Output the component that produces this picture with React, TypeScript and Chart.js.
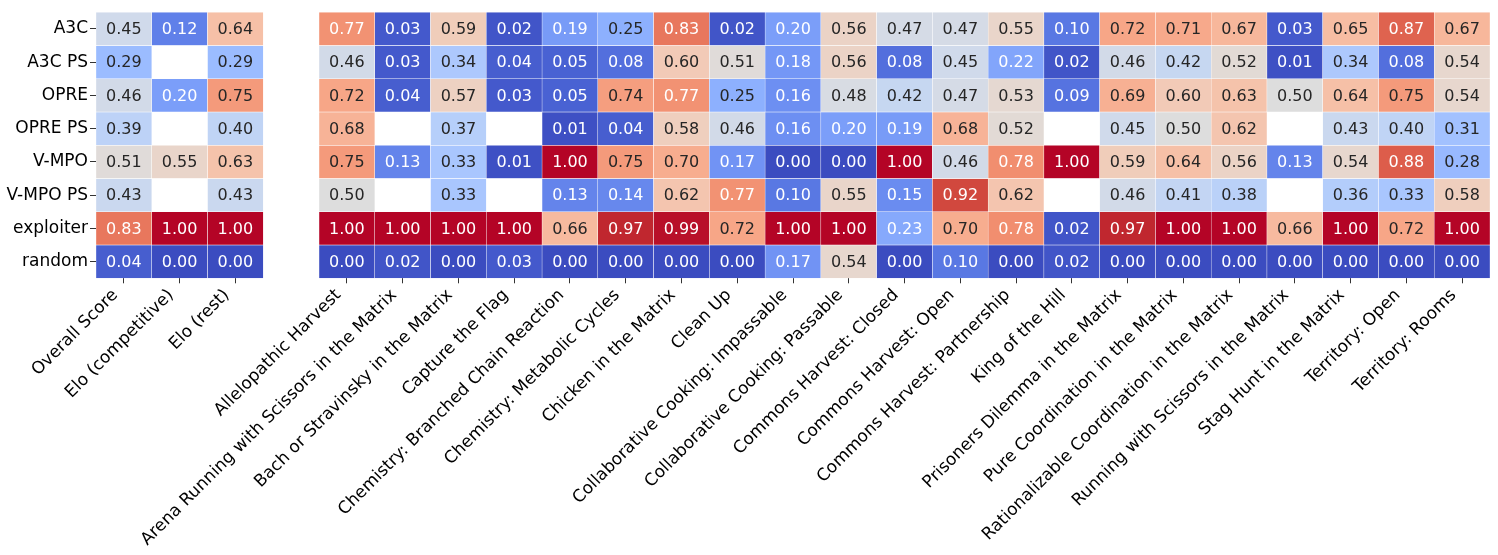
import React, { useEffect, useRef } from 'react';
import { Chart, registerables } from 'chart.js';

Chart.register(...registerables);

const rowLabels = ['A3C', 'A3C PS', 'OPRE', 'OPRE PS', 'V-MPO', 'V-MPO PS', 'exploiter', 'random'];

const summaryLabels = ['Overall Score', 'Elo (competitive)', 'Elo (rest)'];

const substrateLabels = [
  'Allelopathic Harvest',
  'Arena Running with Scissors in the Matrix',
  'Bach or Stravinsky in the Matrix',
  'Capture the Flag',
  'Chemistry: Branched Chain Reaction',
  'Chemistry: Metabolic Cycles',
  'Chicken in the Matrix',
  'Clean Up',
  'Collaborative Cooking: Impassable',
  'Collaborative Cooking: Passable',
  'Commons Harvest: Closed',
  'Commons Harvest: Open',
  'Commons Harvest: Partnership',
  'King of the Hill',
  'Prisoners Dilemma in the Matrix',
  'Pure Coordination in the Matrix',
  'Rationalizable Coordination in the Matrix',
  'Running with Scissors in the Matrix',
  'Stag Hunt in the Matrix',
  'Territory: Open',
  'Territory: Rooms',
];

// Summary values per row: Overall Score, Elo (competitive), Elo (rest)
const summaryA3C = [0.45, 0.12, 0.64];
const summaryA3CPS = [0.29, null, 0.29];
const summaryOPRE = [0.46, 0.20, 0.75];
const summaryOPREPS = [0.39, null, 0.40];
const summaryVMPO = [0.51, 0.55, 0.63];
const summaryVMPOPS = [0.43, null, 0.43];
const summaryExploiter = [0.83, 1.00, 1.00];
const summaryRandom = [0.04, 0.00, 0.00];

// Substrate values per row (same order as substrateLabels)
const substrateA3C = [0.77, 0.03, 0.59, 0.02, 0.19, 0.25, 0.83, 0.02, 0.20, 0.56, 0.47, 0.47, 0.55, 0.10, 0.72, 0.71, 0.67, 0.03, 0.65, 0.87, 0.67];
const substrateA3CPS = [0.46, 0.03, 0.34, 0.04, 0.05, 0.08, 0.60, 0.51, 0.18, 0.56, 0.08, 0.45, 0.22, 0.02, 0.46, 0.42, 0.52, 0.01, 0.34, 0.08, 0.54];
const substrateOPRE = [0.72, 0.04, 0.57, 0.03, 0.05, 0.74, 0.77, 0.25, 0.16, 0.48, 0.42, 0.47, 0.53, 0.09, 0.69, 0.60, 0.63, 0.50, 0.64, 0.75, 0.54];
const substrateOPREPS = [0.68, null, 0.37, null, 0.01, 0.04, 0.58, 0.46, 0.16, 0.20, 0.19, 0.68, 0.52, null, 0.45, 0.50, 0.62, null, 0.43, 0.40, 0.31];
const substrateVMPO = [0.75, 0.13, 0.33, 0.01, 1.00, 0.75, 0.70, 0.17, 0.00, 0.00, 1.00, 0.46, 0.78, 1.00, 0.59, 0.64, 0.56, 0.13, 0.54, 0.88, 0.28];
const substrateVMPOPS = [0.50, null, 0.33, null, 0.13, 0.14, 0.62, 0.77, 0.10, 0.55, 0.15, 0.92, 0.62, null, 0.46, 0.41, 0.38, null, 0.36, 0.33, 0.58];
const substrateExploiter = [1.00, 1.00, 1.00, 1.00, 0.66, 0.97, 0.99, 0.72, 1.00, 1.00, 0.23, 0.70, 0.78, 0.02, 0.97, 1.00, 1.00, 0.66, 1.00, 0.72, 1.00];
const substrateRandom = [0.00, 0.02, 0.00, 0.03, 0.00, 0.00, 0.00, 0.00, 0.17, 0.54, 0.00, 0.10, 0.00, 0.02, 0.00, 0.00, 0.00, 0.00, 0.00, 0.00, 0.00];

const summaryRows = [summaryA3C, summaryA3CPS, summaryOPRE, summaryOPREPS, summaryVMPO, summaryVMPOPS, summaryExploiter, summaryRandom];
const substrateRows = [substrateA3C, substrateA3CPS, substrateOPRE, substrateOPREPS, substrateVMPO, substrateVMPOPS, substrateExploiter, substrateRandom];

// matplotlib "coolwarm" colormap samples (33 stops)
const coolwarmStops: number[][] = [
  [59, 76, 192], [68, 90, 204], [77, 104, 215], [87, 117, 225], [98, 130, 234],
  [108, 142, 241], [119, 154, 247], [130, 165, 251], [141, 176, 254], [152, 185, 255],
  [163, 194, 255], [174, 201, 253], [184, 208, 249], [194, 213, 244], [204, 217, 238],
  [213, 219, 230], [221, 221, 221], [229, 216, 209], [236, 211, 197], [241, 204, 185],
  [245, 196, 173], [247, 187, 160], [247, 177, 148], [247, 166, 135], [244, 154, 123],
  [241, 141, 111], [236, 127, 99], [229, 112, 88], [222, 96, 77], [213, 80, 66],
  [203, 62, 56], [192, 40, 47], [180, 4, 38],
];

function coolwarm(v: number): number[] {
  const t = Math.min(1, Math.max(0, v)) * (coolwarmStops.length - 1);
  const i = Math.min(coolwarmStops.length - 2, Math.floor(t));
  const f = t - i;
  const a = coolwarmStops[i];
  const b = coolwarmStops[i + 1];
  return a.map((c, k) => c + (b[k] - c) * f);
}

function rgbStr(c: number[]): string {
  return `rgb(${Math.round(c[0])},${Math.round(c[1])},${Math.round(c[2])})`;
}

function luminance(c: number[]): number {
  const lin = c.map((x) => {
    const s = x / 255;
    return s <= 0.03928 ? s / 12.92 : Math.pow((s + 0.055) / 1.055, 2.4);
  });
  return 0.2126 * lin[0] + 0.7152 * lin[1] + 0.0722 * lin[2];
}

const FONT = '"DejaVu Sans", "Liberation Sans", sans-serif';

export default function App() {
  const canvasRef = useRef<HTMLCanvasElement | null>(null);

  useEffect(() => {
    if (!canvasRef.current) return;
    const columns = [...summaryLabels, '', ...substrateLabels];
    const fullRows = summaryRows.map((s, r) => [...s, null, ...substrateRows[r]]);

    const datasets = fullRows.map((vals, r) => ({
      label: rowLabels[r],
      data: vals.map((v) => (v == null ? null : [r - 0.5, r + 0.5])),
      backgroundColor: vals.map((v) => (v == null ? 'rgba(0,0,0,0)' : rgbStr(coolwarm(v)))),
      borderColor: '#ffffff',
      borderWidth: 0.5,
      borderSkipped: false,
      grouped: false,
      barPercentage: 1,
      categoryPercentage: 1,
    }));

    const annotate = {
      id: 'cellAnnotations',
      afterDatasetsDraw(chart: any) {
        const ctx = chart.ctx;
        ctx.save();
        ctx.font = `16px ${FONT}`;
        ctx.textAlign = 'center';
        ctx.textBaseline = 'middle';
        fullRows.forEach((vals, di) => {
          const meta = chart.getDatasetMeta(di);
          meta.data.forEach((el: any, i: number) => {
            const v = vals[i];
            if (v == null) return;
            const p = el.getCenterPoint();
            ctx.fillStyle = luminance(coolwarm(v)) > 0.408 ? 'rgb(38,38,38)' : '#ffffff';
            ctx.fillText(v.toFixed(2), p.x, p.y + 1);
          });
        });
        ctx.restore();
      },
    };

    const chart = new Chart(canvasRef.current, {
      type: 'bar',
      data: { labels: columns, datasets: datasets as any },
      options: {
        animation: false,
        responsive: true,
        maintainAspectRatio: false,
        layout: { padding: { top: 7, right: 8, left: 0, bottom: 0 } },
        plugins: { legend: { display: false }, tooltip: { enabled: false } },
        scales: {
          x: {
            type: 'category',
            offset: true,
            border: { display: false },
            grid: {
              offset: false,
              drawOnChartArea: false,
              drawTicks: true,
              tickLength: 5,
              tickColor: (c: any) => (c.index === 3 ? 'rgba(0,0,0,0)' : '#333333'),
            },
            ticks: {
              autoSkip: false,
              minRotation: 45,
              maxRotation: 45,
              color: '#000000',
              padding: 2,
              labelOffset: -8.5,
              font: { family: FONT, size: 17 },
            },
            afterFit: (s: any) => {
              s.height = 555 - 278.3 - 0;
            },
          },
          y: {
            type: 'linear',
            min: -0.5,
            max: 7.5,
            reverse: true,
            border: { display: false },
            grid: {
              drawOnChartArea: false,
              drawTicks: true,
              tickLength: 6,
              tickColor: '#333333',
            },
            afterBuildTicks: (s: any) => {
              s.ticks = rowLabels.map((_, i) => ({ value: i }));
            },
            ticks: {
              color: '#000000',
              padding: 2,
              font: { family: FONT, size: 17 },
              callback: (v: any) => rowLabels[Math.round(Number(v))] ?? '',
            },
            afterFit: (s: any) => {
              s.width = 96;
            },
          },
        },
      },
      plugins: [annotate],
    });

    return () => {
      chart.destroy();
    };
  }, []);

  return (
    <div style={{ position: 'absolute', left: 0, top: 0, width: 1498, height: 555, background: '#ffffff' }}>
      <canvas ref={canvasRef} />
    </div>
  );
}
